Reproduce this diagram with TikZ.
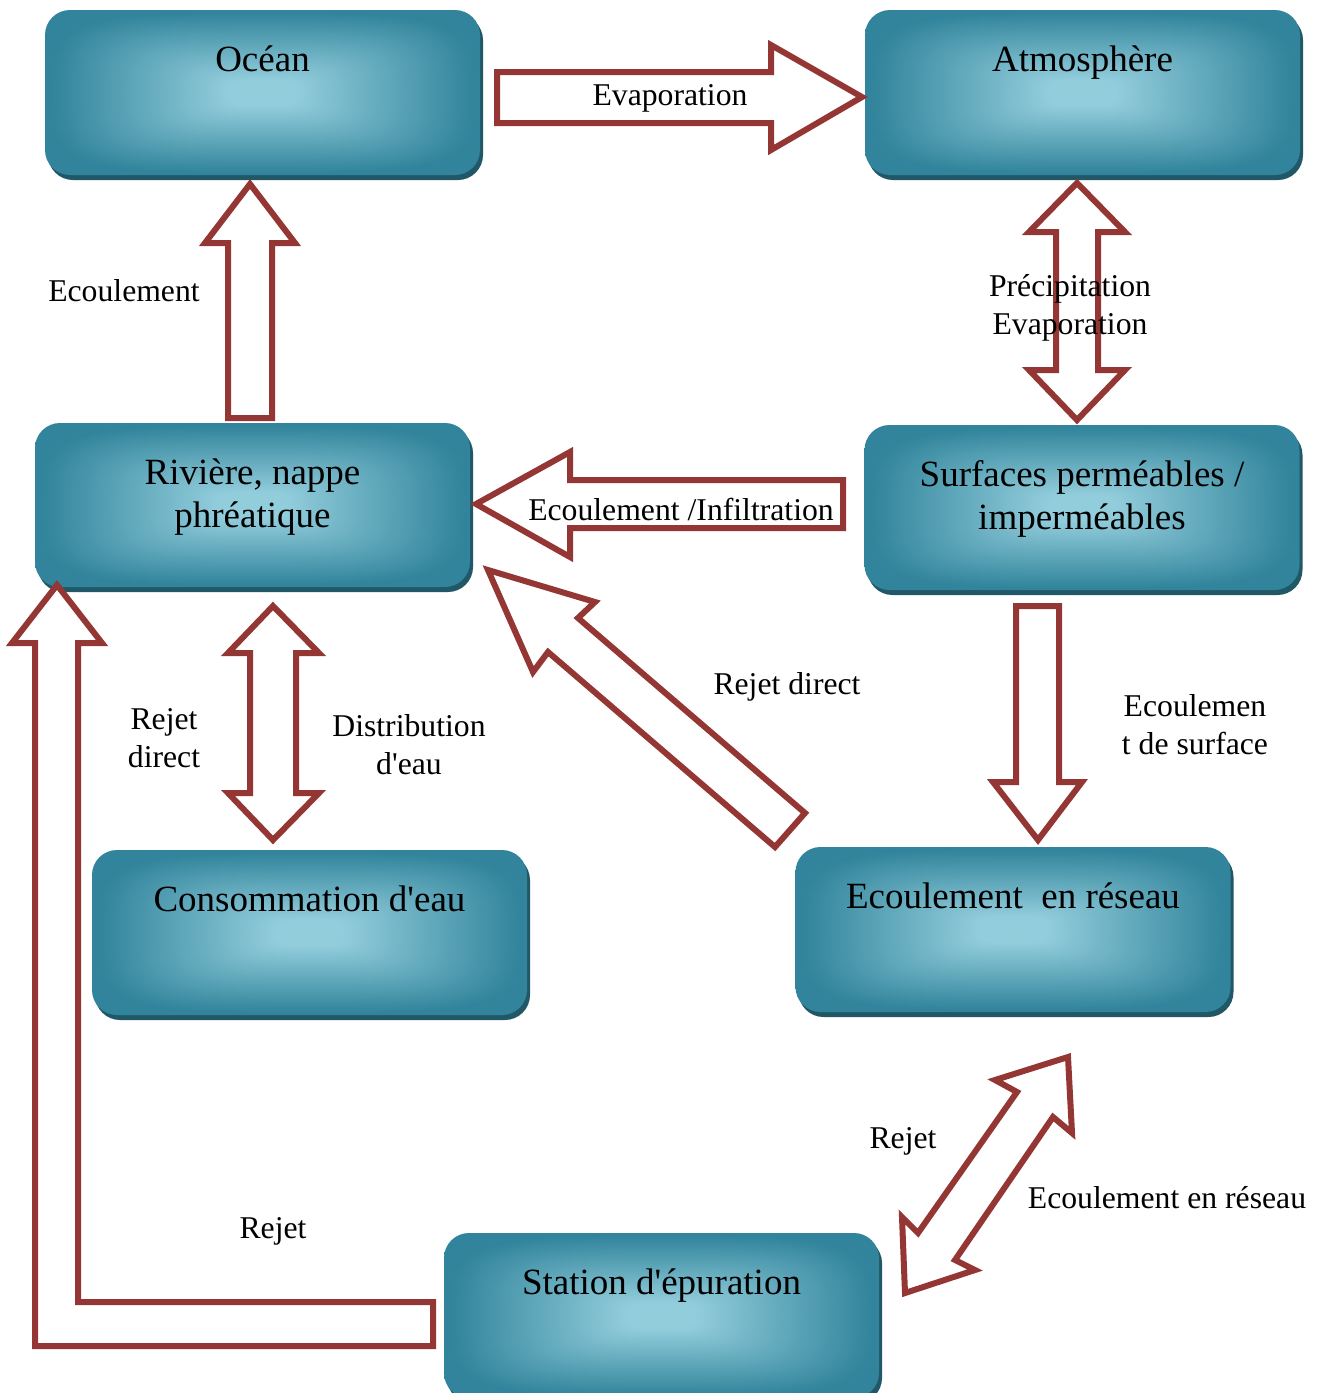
\documentclass[tikz,border=0pt]{standalone}
\usepackage{fontspec}
\newfontfamily\drawfont{Liberation Serif}
\usetikzlibrary{shadows}

\definecolor{boxdark}{HTML}{31849B}
\definecolor{boxlight}{HTML}{92CDDC}
\definecolor{boxshadow}{HTML}{205867}
\definecolor{flowred}{HTML}{943634}

% light in the middle, dark towards the rim of the box
\pgfdeclarefunctionalshading{boxshade}{\pgfpoint{0bp}{0bp}}{\pgfpoint{100bp}{100bp}}{}{
	50 sub abs 25 div 4 exp exch 50 sub abs 25 div 4 exp add 0.25 exp
	0.15 sub 0.82 div dup 0 lt {pop 0} if dup 1 gt {pop 1} if
	dup dup
	-0.381 mul 0.573 add 3 1 roll
	-0.286 mul 0.804 add exch
	-0.255 mul 0.863 add
}

\tikzset{
	box/.style={rectangle, rounded corners=25pt, minimum width=435pt, minimum height=165pt,
		inner sep=0pt, outer sep=0pt, shade, shading=boxshade,
		general shadow={fill=boxshadow, shadow xshift=3pt, shadow yshift=-5pt}},
	boxtext/.style={anchor=base, yshift=-61pt, align=center, font=\drawfont\fontsize{37}{43.5}\selectfont},
	twolines/.style={yshift=-43.5pt},
	flow/.style={draw=flowred, line width=6pt, fill=white, line join=miter},
	flowtext/.style={align=center, font=\drawfont\fontsize{31.7}{38}\selectfont}
}

\begin{document}
\begin{tikzpicture}[x=1pt,y=-1pt]
			%%%%% START %%%%%
			\path[use as bounding box, fill=white] (0,0) rectangle (1320,1393);
			
			\node[box] (ocean) at (262.5,92.5) {};
			\node[boxtext] (ocean-text) at (ocean.north) {Océan};
			\node[box] (atmo) at (1082.5,92.5) {};
			\node[boxtext] (atmo-text) at (atmo.north) {Atmosphère};
			\node[box, minimum height=164pt] (riviere) at (252.5,505) {};
			\node[boxtext, twolines] (riviere-text) at (riviere.north) {Rivière, nappe\\phréatique};
			\node[box] (surfaces) at (1082,507.5) {};
			\node[boxtext, twolines] (surfaces-text) at (surfaces.north) {Surfaces perméables /\\imperméables};
			\node[box] (conso) at (309.5,932.5) {};
			\node[boxtext] (conso-text) at (conso.north) {Consommation d'eau};
			\node[box] (reseau) at (1013,929.5) {};
			\node[boxtext] (reseau-text) at (reseau.north) {Ecoulement\ \ en réseau};
			\node[box] (station) at (661.5,1315.5) {};
			\node[boxtext] (station-text) at (station.north) {Station d'épuration};
			
			% ocean -> atmosphere
			\draw[flow] (497,72) -- (771,72) -- (771,45) -- (862,97) -- (771,150) -- (771,123) -- (497,123) -- cycle;
			% riviere -> ocean
			\draw[flow] (228,418) -- (228,243) -- (205,243) -- (250,184) -- (295,243) -- (272,243) -- (272,418) -- cycle;
			% atmosphere <-> surfaces
			\draw[flow] (1077,183) -- (1125,232) -- (1098,232) -- (1098,370) -- (1125,370) -- (1077,420)
				-- (1029,370) -- (1056,370) -- (1056,232) -- (1029,232) -- cycle;
			% surfaces -> riviere
			\draw[flow] (843,480) -- (570,480) -- (570,452) -- (476,504) -- (570,557) -- (570,528) -- (843,528) -- cycle;
			% reseau -> riviere
			\draw[flow] (488,570) -- (595,602) -- (578,618) -- (805,813) -- (775,847) -- (548,652) -- (533,672) -- cycle;
			% surfaces -> reseau
			\draw[flow] (1016,606) -- (1059,606) -- (1059,782) -- (1082,782) -- (1038,840) -- (993,782) -- (1016,782) -- cycle;
			% riviere <-> consommation
			\draw[flow] (273,606) -- (319,653) -- (296,653) -- (296,793) -- (319,793) -- (273,840)
				-- (228,793) -- (250,793) -- (250,653) -- (228,653) -- cycle;
			% station -> riviere
			\draw[flow] (57,585) -- (102,643) -- (78,643) -- (78,1302) -- (433,1302) -- (433,1346)
				-- (35,1346) -- (35,643) -- (12,643) -- cycle;
			% station <-> reseau
			\draw[flow] (1068,1057) -- (1072,1133) -- (1053,1117) -- (955,1260) -- (975,1270) -- (905,1293)
				-- (902,1217) -- (918,1233) -- (1017,1092) -- (995,1080) -- cycle;
			
			\node[flowtext] (evap) at (670,98) {Evaporation};
			\node[flowtext] (ecoul) at (124,291) {Ecoulement};
			\node[flowtext] (precip) at (1070,308) {Précipitation\\Evaporation};
			\node[flowtext] (infil) at (681,509) {Ecoulement /Infiltration};
			\node[flowtext] (rejdir) at (787,687) {Rejet direct};
			\node[flowtext] (rejdir2) at (164,738) {Rejet\\direct};
			\node[flowtext] (distrib) at (409,745) {Distribution\\d'eau};
			\node[flowtext] (surf) at (1195,725) {Ecoulemen\\t de surface};
			\node[flowtext] (rejet) at (903,1141) {Rejet};
			\node[flowtext] (ecoulres) at (1167,1198) {Ecoulement en réseau};
			\node[flowtext] (rejet2) at (273,1231) {Rejet};
			
			%%%%% END %%%%%
\end{tikzpicture}
\end{document}
